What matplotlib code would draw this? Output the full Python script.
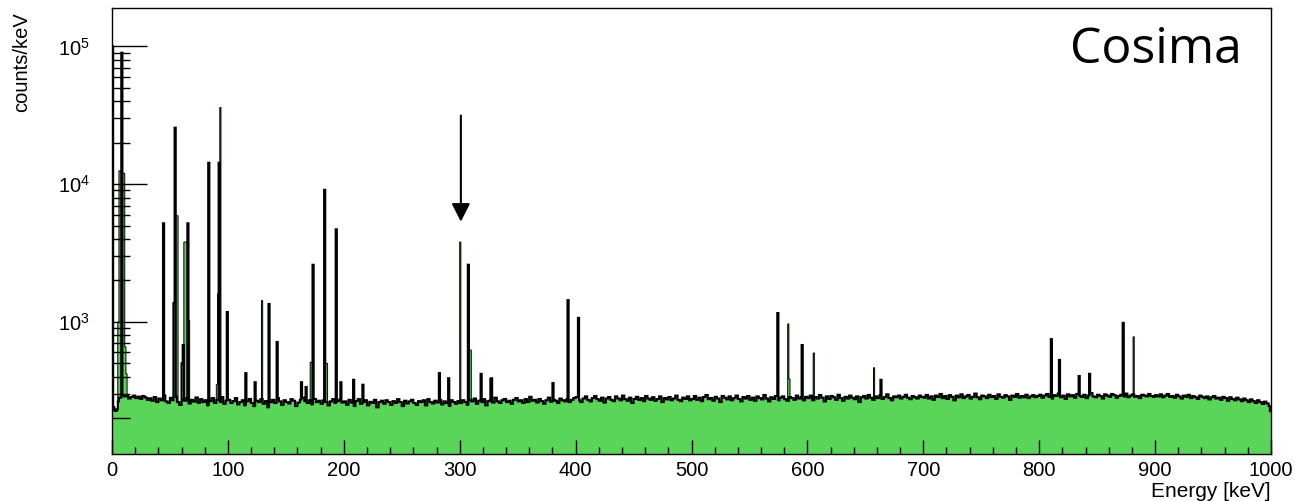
import numpy as np
import matplotlib
matplotlib.use("Agg")
import matplotlib.pyplot as plt
from matplotlib.ticker import LogLocator, MultipleLocator, NullFormatter

plt.rcParams['font.family'] = ['Liberation Sans', 'DejaVu Sans']

# background level (counts/keV), one value for every 2 keV, 0..1000 keV
bg_counts = [
    275, 270, 265, 282, 295, 288, 290, 278, 285, 292, 280, 287, 276, 290, 283, 272, 279, 268, 285, 262, 278, 270, 292, 265, 258,
    281, 270, 286, 262, 250, 275, 268, 280, 256, 272, 264, 283, 259, 275, 262, 270, 248, 266, 280, 258, 272, 262, 285, 255, 268,
    272, 258, 266, 280, 252, 262, 270, 248, 265, 276, 258, 245, 268, 262, 275, 255, 266, 240, 262, 272, 258, 280, 265, 250, 270,
    262, 256, 275, 268, 245, 260, 272, 282, 266, 258, 270, 252, 276, 262, 268, 255, 270, 262, 248, 265, 275, 258, 266, 272, 260,
    265, 250, 272, 260, 245, 266, 275, 255, 262, 270, 248, 263, 258, 272, 240, 262, 268, 255, 270, 262, 250, 266, 258, 275, 262,
    245, 268, 256, 265, 272, 258, 250, 266, 262, 270, 248, 275, 262, 256, 268, 260, 272, 252, 265, 258, 246, 270, 262, 255, 266,
    258, 270, 262, 250, 272, 265, 278, 255, 268, 262, 275, 248, 266, 272, 260, 282, 265, 258, 270, 276, 262, 268, 255, 272, 280,
    265, 270, 258, 275, 262, 286, 268, 272, 260, 276, 266, 255, 270, 282, 264, 272, 268, 258, 278, 270, 265, 275, 262, 272, 280,
    285, 270, 262, 278, 288, 272, 265, 280, 290, 275, 268, 282, 260, 278, 285, 272, 266, 288, 278, 270, 292, 275, 268, 282, 258,
    276, 286, 272, 280, 266, 290, 278, 272, 284, 268, 276, 288, 262, 280, 274, 285, 270, 278, 292, 272, 266, 282, 276, 288, 270,
    276, 290, 272, 282, 266, 285, 295, 275, 280, 268, 286, 278, 262, 290, 282, 274, 288, 270, 280, 292, 276, 265, 285, 278, 290,
    272, 282, 268, 288, 280, 274, 295, 278, 265, 284, 276, 290, 270, 282, 288, 275, 268, 285, 280, 272, 292, 278, 284, 270, 286,
    280, 292, 270, 285, 278, 295, 282, 265, 288, 276, 290, 284, 272, 296, 280, 268, 286, 278, 292, 282, 275, 288, 262, 284, 290,
    278, 295, 282, 272, 288, 280, 292, 276, 285, 298, 280, 270, 288, 284, 292, 278, 286, 296, 282, 275, 290, 284, 278, 292, 286,
    282, 295, 278, 288, 272, 292, 285, 300, 280, 290, 276, 294, 286, 270, 292, 284, 298, 280, 288, 295, 278, 286, 302, 284, 275,
    292, 288, 280, 296, 285, 290, 276, 298, 286, 282, 294, 288, 272, 292, 286, 300, 282, 290, 284, 296, 280, 288, 294, 284, 290,
    296, 282, 292, 300, 286, 278, 294, 290, 302, 284, 292, 276, 298, 288, 294, 282, 300, 290, 286, 296, 280, 292, 304, 288, 284,
    296, 290, 278, 298, 292, 286, 300, 294, 282, 290, 296, 288, 302, 284, 292, 298, 286, 290, 280, 296, 292, 288, 300, 290, 286,
    294, 288, 298, 284, 292, 300, 286, 290, 282, 296, 288, 278, 292, 286, 296, 280, 290, 284, 276, 292, 286, 280, 288, 274, 284,
    290, 278, 282, 272, 286, 280, 268, 284, 276, 270, 282, 274, 266, 278, 270, 262, 274, 266, 258, 270, 262, 254, 264, 256, 245,
]

# measured spectrum (black line): 1 keV bins that stand off the background
black_bins = [0, 1, 2, 3, 4, 8, 44, 53, 54, 60, 61, 65, 83, 92, 99, 115, 123, 135, 142,
              163, 167, 173, 183, 193, 197, 208, 216, 282, 290, 307, 318, 327, 380,
              393, 402, 574, 595, 663, 810, 817, 834, 843, 872, 999]
black_vals = [100000, 240, 228, 226, 232, 90000, 5200, 1370, 25700, 500, 680, 5200, 14300, 14300, 1180, 425, 365, 1350, 715,
              365, 337, 2600, 9100, 4700, 365, 380, 350, 425, 390, 2600, 420, 390, 360,
              1440, 1070, 1160, 680, 380, 750, 530, 405, 420, 985, 225]

# Cosima simulation (green filled)
green_bins = [0, 1, 2, 3, 4, 5, 6, 7, 8, 9, 10, 11, 12, 53, 54, 55, 56, 62, 63, 64, 65, 66,
              90, 91, 92, 93, 129, 171, 172, 184, 185, 300, 308, 309, 326, 402,
              583, 584, 605, 657, 881, 999]
green_vals = [270, 240, 228, 226, 232, 1000, 12500, 12500, 12000, 12000, 12000, 660, 420, 1370, 5900, 5900, 5900,
              3800, 3800, 3800, 1030, 1030,
              350, 1600, 1600, 36000, 1430, 510, 510, 500, 500, 3800, 625, 625, 390, 350,
              967, 385, 595, 465, 780, 225]

edges = np.arange(0, 1001)
bg = np.repeat(np.array(bg_counts, dtype=float), 2)

black = bg.copy()
black[black_bins] = black_vals
green = bg.copy()
green[green_bins] = green_vals

fig = plt.figure(figsize=(12.95, 5.01), dpi=100)
ax = fig.add_axes([112 / 1295, 47 / 501, 1159 / 1295, 446 / 501])

ax.stairs(green, edges, fill=True, color='#5ad55a', baseline=1)
ax.stairs(green, edges, color='k', lw=0.7, baseline=None)
ax.stairs(black, edges, color='k', lw=1.5, baseline=None)

ax.annotate('', xy=(301, 5100), xytext=(301, 33000),
            arrowprops=dict(arrowstyle='-|>,head_length=0.55,head_width=0.28',
                            color='k', lw=1.5, mutation_scale=20))

ax.set_yscale('log')
ax.set_xlim(0, 1000)
ax.set_ylim(110, 1.9e5)

ax.xaxis.set_major_locator(MultipleLocator(100))
ax.xaxis.set_minor_locator(MultipleLocator(20))
ax.yaxis.set_major_locator(LogLocator(base=10, numticks=10))
ax.yaxis.set_minor_locator(LogLocator(base=10, subs=np.arange(2, 10), numticks=20))
ax.yaxis.set_minor_formatter(NullFormatter())

ax.tick_params(axis='x', which='major', direction='in', length=10, width=1.0, pad=5, labelsize=14.5)
ax.tick_params(axis='x', which='minor', direction='in', length=5, width=1.0)
ax.tick_params(axis='y', which='major', direction='in', length=25, width=1.0, pad=16, labelsize=14.5)
ax.tick_params(axis='y', which='minor', direction='in', length=13, width=1.0)
for s in ax.spines.values():
    s.set_linewidth(1.0)

ax.set_xlabel('Energy [keV]', fontsize=15, loc='right')
ax.xaxis.set_label_coords(1.0, -0.062)
ax.set_ylabel('counts/keV', fontsize=14.5, loc='top')
ax.yaxis.set_label_coords(-0.07, 0.991)

ax.text(0.975, 0.877, 'Cosima', transform=ax.transAxes, ha='right', va='baseline',
        fontsize=36, family=['Open Sans', 'DejaVu Sans'])

fig.savefig('out.png', dpi=100)
